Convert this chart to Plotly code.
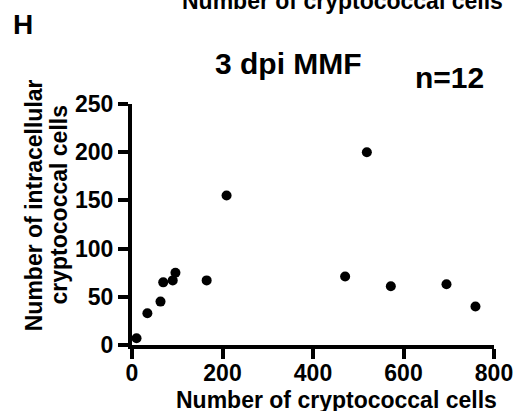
import plotly.graph_objects as go

# Data
total_cells = [10, 34, 63, 69, 90, 96, 165, 209, 471, 519, 572, 695, 759]
intracellular_cells = [7, 33, 45, 65, 67, 75, 67, 155, 71, 200, 61, 63, 40]
x_ticks = [0, 200, 400, 600, 800]
y_ticks = [0, 50, 100, 150, 200, 250]

FONT = "Liberation Sans, Arial, sans-serif"

fig = go.Figure()
fig.add_trace(go.Scatter(
    x=total_cells, y=intracellular_cells, mode="markers",
    marker=dict(size=10, color="black"),
    cliponaxis=False, showlegend=False,
))

axis_common = dict(
    showline=True, linewidth=4, linecolor="black",
    ticks="outside", ticklen=10, tickwidth=4, tickcolor="black",
    showgrid=False, zeroline=False, automargin=False,
    tickfont=dict(family=FONT, size=23, color="black", weight="bold"),
)

fig.update_xaxes(range=[0, 800], tickvals=x_ticks, ticklabelstandoff=-6, **axis_common)
fig.update_yaxes(range=[0, 250], tickvals=y_ticks, **axis_common)

def ann(text, x, y, size, angle=0):
    fig.add_annotation(
        text=text, x=x, y=y, xref="paper", yref="paper",
        xanchor="center", yanchor="middle", showarrow=False,
        textangle=angle,
        font=dict(family=FONT, size=size, color="black", weight="bold"),
    )

ann("3 dpi MMF", 0.431, 1.166, 30)
ann("n=12", 0.878, 1.108, 30)
ann("H", -0.301, 1.329, 28)
ann("Number of cryptococcal cells", 0.581, 1.428, 23)
ann("Number of cryptococcal cells", 0.5655, -0.228, 23)
ann("Number of intracellular", -0.270, 0.581, 23, angle=-90)
ann("cryptococcal cells", -0.203, 0.581, 23, angle=-90)

fig.update_layout(
    width=516, height=411, autosize=False,
    margin=dict(l=132, r=22, t=104, b=66),
    plot_bgcolor="white", paper_bgcolor="white",
)

fig.write_html(
    "out.html",
    config={"displayModeBar": False},
    post_script=(
        "document.body.style.margin='0';"
        "document.body.style.overflow='hidden';"
        "Plotly.relayout('{plot_id}', {width: 516, height: 411});"
    ),
)
